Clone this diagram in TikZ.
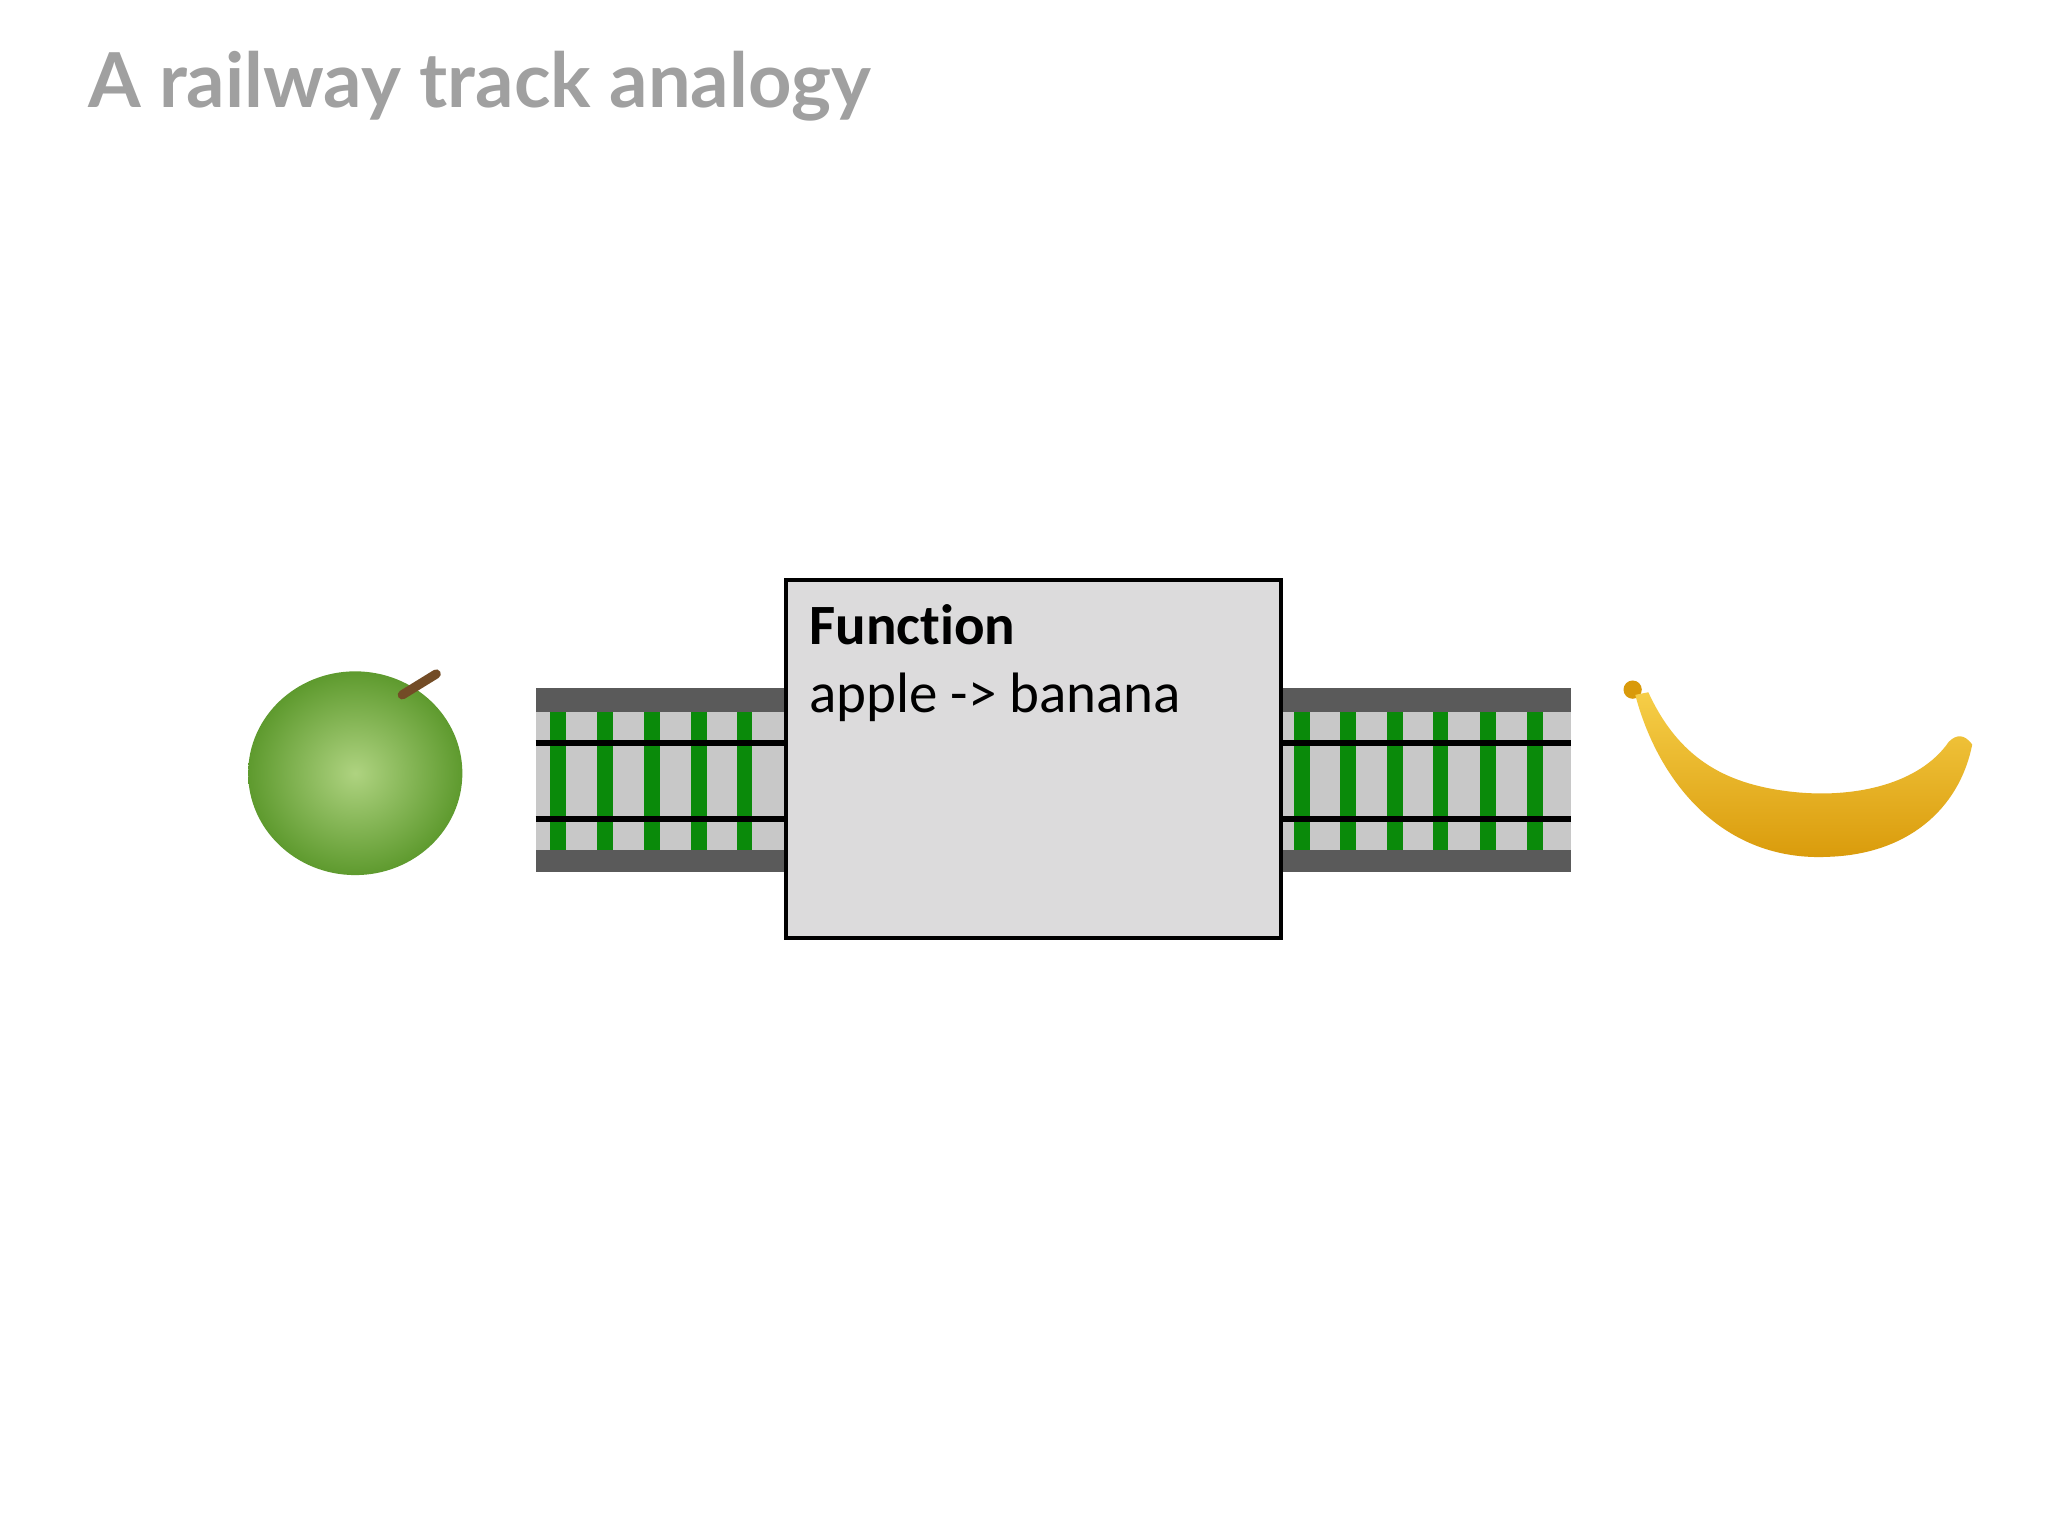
\documentclass[tikz,border=0pt]{standalone}
\usepackage{fontspec}
\setmainfont{Carlito}[Ligatures={NoCommon,NoRare,NoContextual}]
\newfontfamily\titlefont{Lato}
\definecolor{boxgray}{HTML}{DCDBDC}
\definecolor{tiegreen}{HTML}{0A8A0A}
\definecolor{darkband}{HTML}{5A5A5A}
\definecolor{lightband}{HTML}{C8C8C8}
\definecolor{titlegray}{HTML}{A0A0A0}
\definecolor{applegreen}{HTML}{8CC04A}
\definecolor{appledark}{HTML}{5E9A2E}
\definecolor{bananay}{HTML}{F4C21A}
\definecolor{bananad}{HTML}{D99A0A}
\tikzset{
  band/.style={fill=darkband,draw=none},
  bed/.style={fill=lightband,draw=none},
  tie/.style={fill=tiegreen,draw=none},
  rail/.style={black,line width=1.2pt},
  funcbox/.style={draw=black,fill=boxgray,line width=0.8pt}
}
\begin{document}
\begin{tikzpicture}[x=0.01cm,y=-0.01cm]
\useasboundingbox (0,0) rectangle (1568,1176);
\fill[white] (0,0) rectangle (1568,1176);
\node[anchor=west,text=titlegray,font=\titlefont\bfseries\fontsize{16.5}{20}\selectfont] (title) at (55,66) {A railway track analogy};
% left track
\fill[bed] (410,545) rectangle (602,651);
\fill[band] (410,527) rectangle (602,545);
\fill[band] (410,651) rectangle (602,668);
\foreach \x in {427,463,499,535,570} \fill[tie] (\x-6,545) rectangle (\x+6,651);
\draw[rail] (410,569) -- (602,569);
\draw[rail] (410,627) -- (602,627);
% right track
\fill[bed] (981,545) rectangle (1203,651);
\fill[band] (981,527) rectangle (1203,545);
\fill[band] (981,651) rectangle (1203,668);
\foreach \x in {997,1032,1068,1103,1139,1175} \fill[tie] (\x-6,545) rectangle (\x+6,651);
\draw[rail] (981,569) -- (1203,569);
\draw[rail] (981,627) -- (1203,627);
% function box
\draw[funcbox] (602,444) rectangle (981,718);
\node[anchor=north west,align=left,inner sep=0pt,font=\fontsize{12.4}{14.8}\selectfont] (func) at (619,462) {\textbf{Func{}t{}ion}\\apple -> banana};
% apple
\shade[inner color=applegreen!70!white,outer color=appledark] (272,592) ellipse (82 and 78);
\draw[brown!60!black,line width=2pt,line cap=round] (308,532) -- (334,516);
% banana
\fill[bananad] (1250,528) circle (7);
\shade[top color=bananay!80!white,bottom color=bananad] (1252,532) .. controls (1270,600) and (1320,660) .. (1400,656)
  .. controls (1460,654) and (1500,620) .. (1510,570)
  .. controls (1504,562) and (1498,562) .. (1492,568)
  .. controls (1470,600) and (1420,612) .. (1370,606)
  .. controls (1320,600) and (1285,580) .. (1262,530) -- cycle;
\end{tikzpicture}
\end{document}
